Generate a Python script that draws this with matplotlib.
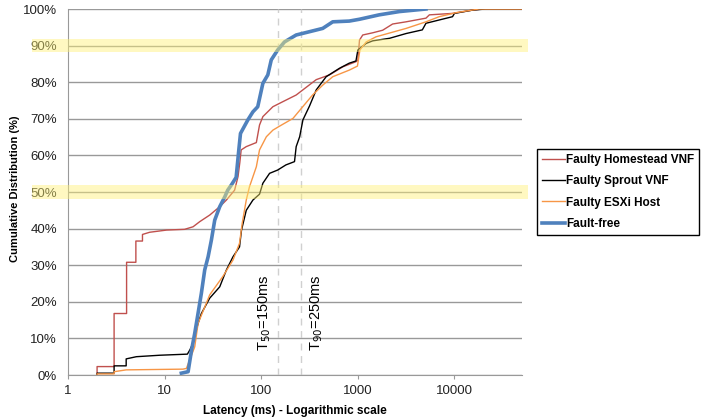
import matplotlib
matplotlib.use('Agg')
import matplotlib.pyplot as plt
import numpy as np

plt.rcParams['font.family'] = ['Liberation Sans', 'DejaVu Sans']

# latency (ms) / cumulative %
homestead_ms = [2, 2, 3, 3, 4.04, 4.04, 5.04, 5.04, 5.9, 5.9, 7, 10.5, 16.1, 19.7, 23.1, 29.3,
                37.2, 43.6, 53, 57.5, 60, 62, 70, 85, 89, 96, 104, 132, 168, 230, 292, 371,
                509, 698, 956, 1000, 1040, 1124, 1426, 1807, 2290, 3160, 5070, 5500, 9550,
                15400, 19500, 50000]
homestead_pct = [0, 2.3, 2.3, 16.8, 16.8, 30.8, 30.8, 36.6, 36.6, 38.4, 39, 39.6, 39.8, 40.5,
                 41.9, 43.7, 46, 47.8, 50.5, 54.2, 58, 61.5, 62.4, 63.3, 63.5, 68.3, 70.6, 73.3,
                 74.7, 76.5, 78.6, 80.7, 82, 84.2, 85.6, 86, 91.5, 92.9, 93.5, 94.2, 95.9, 96.5,
                 97.5, 98.4, 98.8, 99.7, 100, 100]

sprout_ms = [2, 2, 3, 3, 4, 4, 5.1, 8.9, 17.2, 18.2, 19.7, 22.2, 24, 29.3, 37.2, 43.6, 51,
             59.6, 62.5, 70, 82, 96, 104, 122, 148, 180, 221, 230, 250, 270, 316, 371, 470,
             645, 815, 956, 1000, 1220, 1426, 2130, 3160, 4650, 5070, 6950, 9550, 10000,
             15400, 21000, 50000]
sprout_pct = [0, 0.5, 0.5, 2.5, 2.5, 4.4, 5.0, 5.4, 5.7, 6.8, 8.7, 14.1, 16.8, 21, 24.1, 28.7,
              32.3, 35, 39.6, 45, 47.8, 49.4, 52.4, 55.1, 56, 57.4, 58.3, 62.4, 65.1, 69.7,
              73.5, 77.9, 81.5, 83.8, 85.2, 85.8, 88.8, 90.6, 91.3, 92, 93.3, 94.3, 96.1, 97,
              97.9, 98.8, 99.7, 100, 100]

esxi_ms = [2, 2, 3, 3, 4, 15.5, 16.8, 20.5, 22.2, 29.3, 40, 51, 59.6, 63.5, 70, 75.5, 89, 96,
           113, 132, 155, 213, 269, 340, 433, 550, 815, 990, 1050, 1220, 1540, 3160, 5070,
           6950, 10400, 17900, 50000]
esxi_pct = [0, 0.3, 0.3, 0.9, 1.4, 1.6, 1.8, 7.7, 14.1, 21.9, 26.9, 31.4, 36, 41.4, 47.8, 51.4,
            56.9, 61.5, 65.1, 66.9, 68, 70.1, 73.3, 76.5, 79.2, 81.5, 83.3, 84.4, 88.8, 91,
            92.4, 94.7, 96.5, 97.9, 99, 100, 100]

free_ms = [14.9, 17.5, 19, 20.5, 22.2, 24, 26, 28.2, 30.5, 33, 37.2, 42, 45, 49, 55, 58.6, 61,
           72.7, 82, 92, 104, 117, 127, 148, 174, 230, 316, 433, 550, 815, 1040, 1660, 2690,
           5070]
free_pct = [0.5, 0.9, 6.8, 11.4, 16.9, 22.3, 28.7, 32.3, 36.9, 42.3, 46, 48.7, 50.5, 51.9, 54,
            61.5, 66, 69.7, 71.9, 73.3, 79.7, 82, 86.1, 88.8, 91, 92.9, 93.8, 94.7, 96.5, 96.7,
            97.2, 98.4, 99.3, 100]

t50 = 150
t90 = 260
bands = [50, 90]

fig = plt.figure(figsize=(7.14, 4.2), dpi=100)
ax = fig.add_axes([68/714, 1-375/420, 454/714, 366/420])

ax.plot(homestead_ms, homestead_pct, color='#C0504D', lw=1.0, label='Faulty Homestead VNF')
ax.plot(sprout_ms, sprout_pct, color='black', lw=1.0, label='Faulty Sprout VNF')
ax.plot(esxi_ms, esxi_pct, color='#F79646', lw=1.0, label='Faulty ESXi Host')
ax.plot(free_ms, free_pct, color='#4F81BD', lw=2.6, label='Fault-free')

for b in bands:
    ax.axhspan(b - 1.8, b + 1.8, xmin=-0.079, xmax=1.013, color='#FFF176', alpha=0.45,
               lw=0, zorder=5, clip_on=False)

for t in [t50, t90]:
    ax.axvline(t, color='#d0d0d0', lw=1.0, ls=(0, (5, 4)), zorder=1)
# labels: T50 left of its line, T90 right of its line
ax.text(t50 / 1.38, 17, 'T$_{50}$=150ms', rotation=90, ha='center', va='center', fontsize=10.5)
ax.text(t90 * 1.45, 17, 'T$_{90}$=250ms', rotation=90, ha='center', va='center', fontsize=10.5)

ax.set_xscale('log')
ax.set_xlim(1, 50000)
ax.set_ylim(0, 100)
ax.set_xticks([1, 10, 100, 1000, 10000])
ax.set_xticklabels(['1', '10', '100', '1000', '10000'])
ax.xaxis.set_minor_locator(matplotlib.ticker.NullLocator())
ax.set_yticks(np.arange(0, 101, 10))
ax.set_yticklabels(['%d%%' % v for v in range(0, 101, 10)])
ax.yaxis.grid(True, color='#999999', lw=1.0)
ax.set_axisbelow(True)
for s in ['top', 'right']:
    ax.spines[s].set_visible(False)
for s in ['left', 'bottom']:
    ax.spines[s].set_color('#999999')
ax.tick_params(axis='y', length=0, pad=8, labelsize=9.5, colors='#222222')
ax.tick_params(axis='x', length=3, color='#999999', pad=4, labelsize=9.5, labelcolor='#222222')

ax.set_xlabel('Latency (ms) - Logarithmic scale', fontsize=8.5, fontweight='bold', labelpad=6)
ax.set_ylabel('Cumulative Distribution (%)', fontsize=8.0, fontweight='bold', labelpad=4)
ax.yaxis.set_label_coords(-0.105, 0.51)

leg = fig.legend(loc='upper left', bbox_to_anchor=(537/714, 1-149/420), frameon=True,
                 fancybox=False, edgecolor='black', framealpha=1, borderaxespad=0,
                 handlelength=2.0, handletextpad=0.05, labelspacing=0.8,
                 prop={'weight': 'bold', 'size': 8.5})
leg.get_frame().set_linewidth(1.0)

plt.savefig('out.png', dpi=100)
